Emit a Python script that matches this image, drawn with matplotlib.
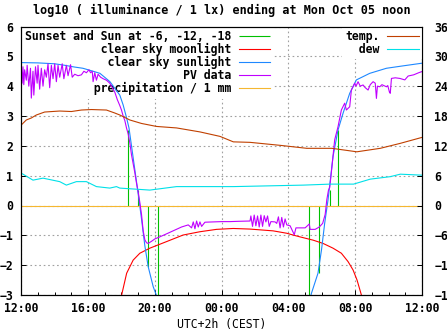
#!/usr/bin/python

import numpy as np
import matplotlib
matplotlib.use("Agg")
import matplotlib.pyplot as plt
from matplotlib.ticker import MultipleLocator

plt.rcParams["font.family"] = "DejaVu Sans Mono"
plt.rcParams["font.weight"] = "bold"
plt.rcParams["font.size"] = 8.3

# hours since 12:00 (Sun) -> 24 = 12:00 next day
xtick_hours = [0, 4, 8, 12, 16, 20, 24]
xtick_labels = ["12:00", "16:00", "20:00", "00:00", "04:00", "08:00", "12:00"]

# Sunset and Sun at -6, -12, -18 (evening), then reverse (morning)
sun_h = [6.40, 6.97, 7.60, 8.20, 17.24, 17.83, 18.47, 18.97]
sun_v = [2.53, 0.52, -2.05, -3.5, -3.5, -2.27, 0.52, 2.53]

# clear sky moonlight
moon_h = [6.01, 6.31, 6.70, 7.10, 7.70, 8.70, 9.69, 10.69, 11.69, 12.69, 13.69,
          15.08, 15.9, 16.28, 16.68, 17.47, 18.07, 18.67, 19.17, 19.57, 19.87,
          20.11, 20.37]
moon_v = [-3.0, -2.27, -1.83, -1.60, -1.43, -1.21, -0.99, -0.88, -0.80, -0.77,
          -0.79, -0.85, -0.93, -0.99, -1.05, -1.16, -1.27, -1.43, -1.60, -1.88,
          -2.16, -2.50, -3.0]

# clear sky sunlight
sunl_h = [0.0, 1.0, 2.0, 2.6, 3.2, 3.69, 4.3, 4.71, 5.31, 5.9, 6.1, 6.3, 6.45,
          6.7, 7.0, 7.2, 7.4, 7.6, 7.9, 8.15, 12.0, 17.3, 17.38, 17.77, 17.98,
          18.17, 18.37, 18.67, 18.97, 19.27, 19.67, 20.07, 20.87, 21.87,
          22.86, 24.0]
sunl_v = [4.79, 4.78, 4.75, 4.70, 4.64, 4.60, 4.50, 4.43, 4.15, 3.70, 3.37,
          2.95, 2.60, 1.60, 0.40, -0.45, -1.35, -2.05, -2.72, -3.1, -5.0, -3.1,
          -2.94, -2.27, -1.49, -0.60, 0.18, 1.64, 2.53, 3.09, 3.76, 4.21, 4.43,
          4.60, 4.68, 4.77]

# PV data
pv_h = [0.0, 0.05, 0.1, 0.15, 0.2, 0.3, 0.35, 0.45, 0.55, 0.6, 0.7, 0.75,
        0.85, 0.95, 1.0, 1.1, 1.2, 1.3, 1.4, 1.5, 1.6, 1.7, 1.8, 1.9, 2.0, 2.1,
        2.2, 2.3, 2.45, 2.55, 2.7, 2.8, 2.95, 3.05, 3.2, 3.4, 3.6, 3.75, 3.9,
        4.05, 4.15, 4.25, 4.3, 4.4, 4.5, 4.6, 4.75, 4.9, 5.1, 5.3, 5.45, 5.6,
        5.75, 5.9, 6.0, 6.1, 6.2, 6.3, 6.4, 6.5, 6.6, 6.7, 6.8, 6.9, 7.0, 7.1,
        7.2, 7.3, 7.4, 7.5, 7.6, 7.8, 8.0, 8.3, 8.7, 9.2, 9.6, 10.0, 10.2, 10.3,
        10.4, 10.5, 10.6, 10.7, 10.8, 11.0, 11.5, 12.0, 12.5, 13.0, 13.7,
        13.75, 13.85, 13.95, 14.05, 14.15, 14.25, 14.35, 14.45, 14.55, 14.65,
        14.75, 14.85, 14.95, 15.2, 15.3, 15.4, 15.5, 15.6, 15.7, 15.8, 15.9,
        16.1, 16.35, 16.45, 17.0, 17.25, 17.3, 17.6, 17.85, 18.05, 18.2, 18.3,
        18.4, 18.47, 18.55, 18.67, 18.77, 18.97, 19.17, 19.37, 19.47, 19.67,
        19.77, 19.97, 20.05, 20.17, 20.3, 20.47, 20.6, 20.77, 20.9, 21.07,
        21.2, 21.27, 21.33, 21.47, 21.6, 21.87, 21.95, 22.05, 22.1, 22.17,
        22.4, 22.67, 22.97, 23.17, 23.5, 23.8, 24.0]
pv_v = [4.60, 4.10, 4.65, 4.05, 4.55, 4.20, 4.70, 4.00, 4.60, 3.60, 4.50, 3.70,
        4.65, 4.10, 4.70, 3.90, 4.60, 4.00, 4.55, 4.30, 4.75, 3.95, 4.70, 4.25,
        4.75, 4.15, 4.70, 4.30, 4.75, 4.25, 4.70, 4.35, 4.72, 4.30, 4.40, 4.35,
        4.38, 4.50, 4.45, 4.55, 4.45, 4.50, 4.15, 4.45, 4.20, 4.40, 4.30, 4.25,
        4.20, 4.10, 3.95, 3.80, 3.55, 3.35, 3.20, 3.00, 2.85, 2.60, 2.40, 2.10,
        1.70, 1.40, 1.10, 0.75, 0.45, 0.10, -0.30, -0.85, -1.15, -1.25, -1.27,
        -1.20, -1.12, -1.05, -0.95, -0.82, -0.72, -0.65, -0.75, -0.55, -0.78,
        -0.52, -0.72, -0.55, -0.70, -0.56, -0.55, -0.54, -0.54, -0.53, -0.52,
        -0.35, -0.70, -0.32, -0.68, -0.35, -0.72, -0.32, -0.70, -0.34, -0.55,
        -0.35, -0.70, -0.54, -0.55, -0.60, -0.38, -0.75, -0.40, -0.72, -0.45,
        -0.65, -0.68, -0.98, -0.75, -0.75, -0.62, -0.80, -0.80, -0.72, -0.60,
        -0.30, 0.20, 0.52, 0.60, 1.00, 1.64, 2.20, 2.64, 3.20, 3.43, 3.20, 3.31,
        3.87, 4.10, 4.00, 4.15, 4.00, 4.04, 3.95, 3.87, 4.05, 4.15, 4.10, 3.59,
        4.00, 3.98, 4.05, 3.98, 4.02, 3.80, 3.76, 4.26, 4.28, 4.26, 4.21, 4.34,
        4.38, 4.45, 4.49]

# precipitation / 1 mm
prec_h = [0, 6, 12, 18, 24]
prec_v = [0, 0, 0, 0, 0]

# temperature and dew point (deg C, right axis)
temp_h = [0, 0.3, 0.6, 0.9, 1.4, 2.3, 3.0, 3.6, 4.2, 5.1, 5.6, 5.9, 6.5, 7.2,
          8.1, 9.3, 10.7, 11.9, 12.7, 13.7, 15.5, 17.1, 18.6, 20.1, 21.5,
          22.7, 24]
temp_c = [16.2, 17.2, 17.6, 18.2, 18.8, 19.0, 18.9, 19.2, 19.3, 19.2, 18.6,
          18.2, 17.2, 16.5, 15.9, 15.6, 14.8, 13.9, 12.8, 12.7, 12.1, 11.5,
          11.5, 10.8, 11.5, 12.5, 13.7]
dew_h = [0, 0.7, 1.3, 2.3, 2.7, 3.3, 3.9, 4.5, 5.3, 5.7, 5.9, 7.7, 9.3, 12.7,
         15.5, 16.9, 18.5, 19.9, 20.9, 22.1, 22.7, 24]
dew_c = [6.5, 5.1, 5.5, 4.8, 4.1, 4.8, 4.8, 3.8, 3.5, 3.8, 3.5, 3.1, 3.8, 3.8,
         4.0, 4.1, 4.3, 4.3, 5.3, 5.8, 6.3, 6.1]


def main():
  fig = plt.figure(figsize=(4.47, 3.35), dpi=100)
  ax = fig.add_axes([21.3/447, 40/335, (422 - 21.3)/447, (295 - 26.5)/335])
  ax2 = ax.twinx()

  lw = 0.8
  ax.vlines(sun_h, 0, sun_v, color='#00c000', lw=lw, zorder=2,
            label="Sunset and Sun at -6, -12, -18")
  ax.plot(moon_h, moon_v, color='#ff0000', lw=lw, zorder=2,
          label="clear sky moonlight")
  ax.plot(sunl_h, sunl_v, color='#1e88ff', lw=lw, zorder=2,
          label="clear sky sunlight")
  ax.plot(pv_h, pv_v, color='#c000ff', lw=lw, zorder=2.1, label="PV data")
  ax.plot(prec_h, prec_v, color='#f5b731', lw=lw, zorder=2,
          label="precipitation / 1 mm")

  ax2.plot(temp_h, temp_c, color='#c04000', lw=lw, label="temp.")
  ax2.plot(dew_h, dew_c, color='#00e0e8', lw=lw, label="dew")

  ax.set_xlim(0, 24)
  ax.set_ylim(-3, 6)
  ax2.set_ylim(-18, 36)
  ax.set_xticks(xtick_hours)
  ax.set_xticklabels(xtick_labels)
  ax.xaxis.set_minor_locator(MultipleLocator(1))
  ax.yaxis.set_major_locator(MultipleLocator(1))
  ax2.yaxis.set_major_locator(MultipleLocator(6))

  ax.tick_params(which='both', direction='in', width=0.7)
  ax.tick_params(which='major', length=3.5)
  ax.tick_params(which='minor', length=2)
  ax.tick_params(axis='x', pad=5)
  ax.tick_params(axis='y', pad=6)
  ax2.tick_params(direction='in', length=3.5, width=0.7, pad=9)

  for sp in list(ax.spines.values()) + list(ax2.spines.values()):
    sp.set_linewidth(0.8)

  ax.set_axisbelow(True)
  ax.grid(True, which='major', color='#a0a0a0', lw=0.8, linestyle=(0, (1.5, 2.5)))

  ax.set_title("log10 ( illuminance / 1 lx) ending at Mon Oct 05 noon",
               fontsize=8.5, fontweight='bold', pad=9)
  ax.set_xlabel("UTC+2h (CEST)", labelpad=2.4)

  # right-aligned key texts (monospace -> pad with spaces)
  hdl, lgs = ax.get_legend_handles_labels()
  w = max(len(s) for s in lgs)
  lgs = [s.rjust(w) for s in lgs]
  leg = ax.legend(hdl, lgs, loc='upper left', markerfirst=False,
                  borderaxespad=0.0, borderpad=0.3, labelspacing=0.0,
                  handlelength=2.7, handletextpad=0.7, fancybox=False,
                  framealpha=1, edgecolor='none', facecolor='white')
  leg.set_zorder(1.5)

  hdl2, lgs2 = ax2.get_legend_handles_labels()
  w2 = max(len(s) for s in lgs2)
  lgs2 = [s.rjust(w2) for s in lgs2]
  leg2 = ax2.legend(hdl2, lgs2, loc='upper right', markerfirst=False,
                    borderaxespad=0.0, borderpad=0.3, labelspacing=0.0,
                    handlelength=2.7, handletextpad=0.7, fancybox=False,
                    framealpha=1, edgecolor='none', facecolor='white')
  leg2.set_zorder(1.5)

  fig.savefig("out.png", dpi=100)


if __name__ == "__main__":
  main()
